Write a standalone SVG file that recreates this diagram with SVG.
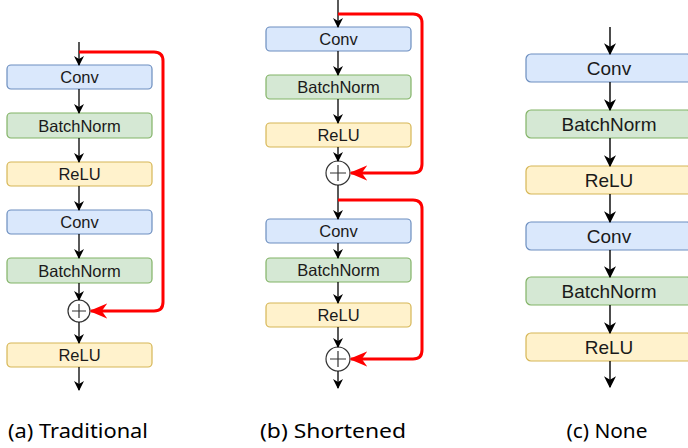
<svg xmlns="http://www.w3.org/2000/svg" width="688" height="448" viewBox="0 0 688 448">
<defs>
<marker id="ah" viewBox="0 0 10 10" refX="9" refY="5" markerWidth="10" markerHeight="10" markerUnits="userSpaceOnUse" orient="auto">
<path d="M0,0 L10,5 L0,10 L3,5 Z" fill="#000"/>
</marker>
<marker id="ahc" viewBox="0 0 10 10" refX="9" refY="5" markerWidth="12" markerHeight="12" markerUnits="userSpaceOnUse" orient="auto">
<path d="M0,0 L10,5 L0,10 L3,5 Z" fill="#000"/>
</marker>
<marker id="rah" viewBox="0 0 10 10" refX="9" refY="5" markerWidth="18" markerHeight="18" markerUnits="userSpaceOnUse" orient="auto">
<path d="M0,0.8 L10,5 L0,9.2 L3,5 Z" fill="#ff0000"/>
</marker>
<style>
.blue{fill:#dae8fc;stroke:#6c8ebf;stroke-width:1.2}
.green{fill:#d5e8d4;stroke:#82b366;stroke-width:1.2}
.yellow{fill:#fff2cc;stroke:#d6b656;stroke-width:1.2}
.t{font-family:"Liberation Sans",Arial,sans-serif;font-size:16.5px;fill:#1a1a1a;text-anchor:middle;dominant-baseline:central}
.tc{font-family:"Liberation Sans",Arial,sans-serif;font-size:19px;fill:#1a1a1a;text-anchor:middle;dominant-baseline:central}
.arr{stroke:#000;stroke-width:1.3;fill:none;marker-end:url(#ah)}
.arrc{stroke:#000;stroke-width:1.4;fill:none;marker-end:url(#ahc)}
.red{stroke:#ff0000;stroke-width:3;fill:none;marker-end:url(#rah)}
.plus{fill:#fff;stroke:#333;stroke-width:1.2}
.cap{font-family:"Noto Sans",sans-serif;font-size:19px;fill:#000;text-anchor:middle}
</style>
</defs>

<!-- Column (a) -->
<g id="a-conv1"><rect class="blue" x="7" y="65" width="145" height="24" rx="4"/><text class="t" x="79.5" y="77">Conv</text></g>
<g id="a-bn1"><rect class="green" x="7" y="113" width="145" height="25" rx="4"/><text class="t" x="79.5" y="125.5">BatchNorm</text></g>
<g id="a-relu1"><rect class="yellow" x="7" y="162" width="145" height="24" rx="4"/><text class="t" x="79.5" y="174">ReLU</text></g>
<g id="a-conv2"><rect class="blue" x="7" y="210" width="145" height="24" rx="4"/><text class="t" x="79.5" y="222">Conv</text></g>
<g id="a-bn2"><rect class="green" x="7" y="258" width="145" height="25" rx="4"/><text class="t" x="79.5" y="270.5">BatchNorm</text></g>
<g id="a-add"><circle class="plus" cx="79" cy="311" r="11"/><path d="M72,311 H86 M79,304 V318" stroke="#333" stroke-width="1.2"/></g>
<g id="a-relu2"><rect class="yellow" x="7" y="343" width="145" height="24" rx="4"/><text class="t" x="79.5" y="355">ReLU</text></g>

<!-- Column (b) -->
<g id="b-conv1"><rect class="blue" x="266" y="27" width="145" height="24" rx="4"/><text class="t" x="338.5" y="39">Conv</text></g>
<g id="b-bn1"><rect class="green" x="266" y="75" width="145" height="24" rx="4"/><text class="t" x="338.5" y="87">BatchNorm</text></g>
<g id="b-relu1"><rect class="yellow" x="266" y="123" width="145" height="24" rx="4"/><text class="t" x="338.5" y="135">ReLU</text></g>
<g id="b-add1"><circle class="plus" cx="338" cy="173" r="12"/><path d="M330,173 H346 M338,165 V181" stroke="#333" stroke-width="1.2"/></g>
<g id="b-conv2"><rect class="blue" x="266" y="219" width="145" height="24" rx="4"/><text class="t" x="338.5" y="231">Conv</text></g>
<g id="b-bn2"><rect class="green" x="266" y="258" width="145" height="24" rx="4"/><text class="t" x="338.5" y="270">BatchNorm</text></g>
<g id="b-relu2"><rect class="yellow" x="266" y="303" width="145" height="24" rx="4"/><text class="t" x="338.5" y="315">ReLU</text></g>
<g id="b-add2"><circle class="plus" cx="338" cy="359" r="12"/><path d="M330,359 H346 M338,351 V367" stroke="#333" stroke-width="1.2"/></g>

<!-- Column (c) -->
<g id="c-conv1"><rect class="blue" x="526" y="54" width="166" height="28" rx="5"/><text class="tc" x="609" y="68">Conv</text></g>
<g id="c-bn1"><rect class="green" x="526" y="110" width="166" height="28" rx="5"/><text class="tc" x="609" y="124">BatchNorm</text></g>
<g id="c-relu1"><rect class="yellow" x="526" y="166" width="166" height="28" rx="5"/><text class="tc" x="609" y="180">ReLU</text></g>
<g id="c-conv2"><rect class="blue" x="526" y="222" width="166" height="28" rx="5"/><text class="tc" x="609" y="236">Conv</text></g>
<g id="c-bn2"><rect class="green" x="526" y="277" width="166" height="28" rx="5"/><text class="tc" x="609" y="291">BatchNorm</text></g>
<g id="c-relu2"><rect class="yellow" x="526" y="333" width="166" height="28" rx="5"/><text class="tc" x="609" y="347">ReLU</text></g>

<g id="connectors">
<!-- (a) -->
<path class="arr" d="M79,42 V65"/>
<path class="arr" d="M79,89 V113"/>
<path class="arr" d="M79,138 V162"/>
<path class="arr" d="M79,186 V210"/>
<path class="arr" d="M79,234 V258"/>
<path class="arr" d="M79,283 V300"/>
<path class="arr" d="M79,322 V343"/>
<path class="arr" d="M79,367 V390"/>
<path class="red" d="M79,52 H154 Q163,52 163,61 V302 Q163,311 154,311 H91"/>
<!-- (b) -->
<path class="arr" d="M338,0 V27"/>
<path class="arr" d="M338,51 V75"/>
<path class="arr" d="M338,99 V123"/>
<path class="arr" d="M338,147 V161"/>
<path class="arr" d="M338,185 V219"/>
<path class="arr" d="M338,243 V258"/>
<path class="arr" d="M338,282 V303"/>
<path class="arr" d="M338,327 V347"/>
<path class="arr" d="M338,371 V388"/>
<path class="red" d="M338,14 H413 Q422,14 422,23 V164 Q422,173 413,173 H351"/>
<path class="red" d="M338,200 H413 Q422,200 422,209 V350 Q422,359 413,359 H351"/>
<!-- (c) -->
<path class="arrc" d="M610,27 V54"/>
<path class="arrc" d="M610,82 V110"/>
<path class="arrc" d="M610,138 V166"/>
<path class="arrc" d="M610,194 V222"/>
<path class="arrc" d="M610,250 V277"/>
<path class="arrc" d="M610,305 V333"/>
<path class="arrc" d="M610,361 V387"/>
</g>

<g id="captions">
<text class="cap" x="78" y="438" textLength="140" lengthAdjust="spacingAndGlyphs">(a) Traditional</text>
<text class="cap" x="333" y="438" textLength="146" lengthAdjust="spacingAndGlyphs">(b) Shortened</text>
<text class="cap" x="607" y="438" textLength="81" lengthAdjust="spacingAndGlyphs">(c) None</text>
</g>
</svg>
